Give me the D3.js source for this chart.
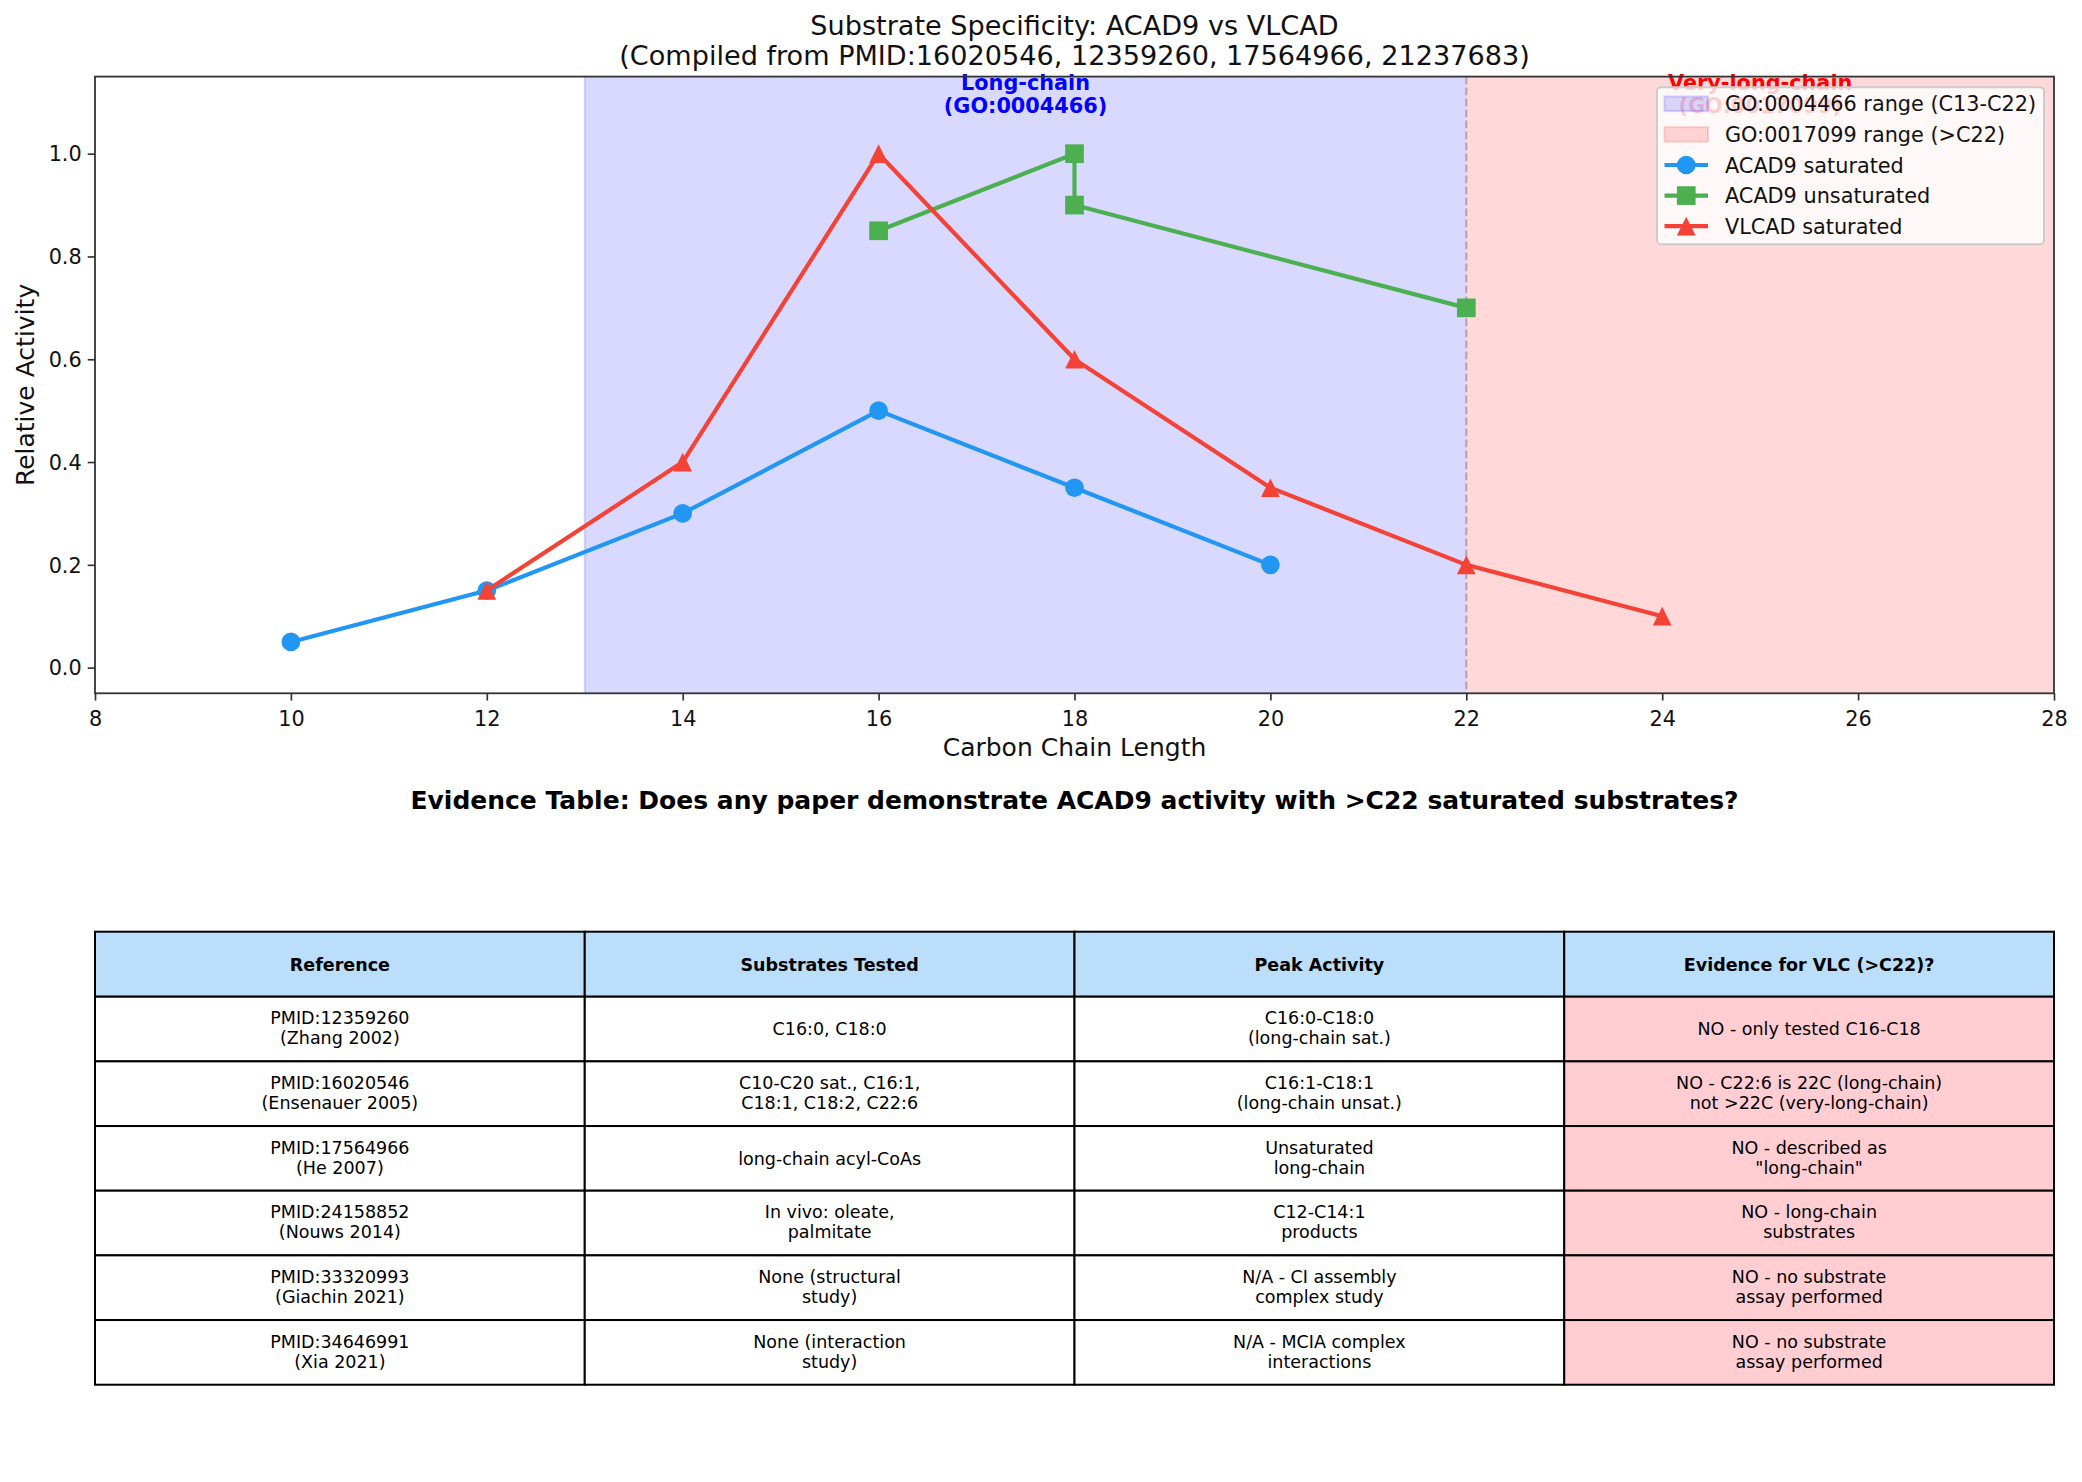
<!DOCTYPE html>
<html>
<head>
<meta charset="utf-8">
<script src="https://cdn.jsdelivr.net/npm/d3@7"></script>
<style>
  body { margin: 0; background: #fff; }
  svg { display: block; font-family: "DejaVu Sans", sans-serif; }
</style>
</head>
<body>
<svg id="chart" width="2082" height="1482"></svg>
<script>
// ---------- data ----------
const acad9SatX = [10, 12, 14, 16, 18, 20];
const acad9SatY = [0.05, 0.15, 0.30, 0.50, 0.35, 0.20];
const acad9UnsatX = [16, 18, 18, 22];
const acad9UnsatY = [0.85, 1.00, 0.90, 0.70];
const vlcadSatX = [12, 14, 16, 18, 20, 22, 24];
const vlcadSatY = [0.15, 0.40, 1.00, 0.60, 0.35, 0.20, 0.10];
const xTicks = [8, 10, 12, 14, 16, 18, 20, 22, 24, 26, 28];
const yTicks = [0.0, 0.2, 0.4, 0.6, 0.8, 1.0];
const longChainRange = [13, 22];
const vlcRange = [22, 28];
const seriesNames = ["ACAD9 saturated", "ACAD9 unsaturated", "VLCAD saturated"];
const spanNames = ["GO:0004466 range (C13-C22)", "GO:0017099 range (>C22)"];
const titleLines = ["Substrate Specificity: ACAD9 vs VLCAD", "(Compiled from PMID:16020546, 12359260, 17564966, 21237683)"];
const tableTitle = "Evidence Table: Does any paper demonstrate ACAD9 activity with >C22 saturated substrates?";
const tableHeaders = ["Reference", "Substrates Tested", "Peak Activity", "Evidence for VLC (>C22)?"];
const colReference = [
  ["PMID:12359260", "(Zhang 2002)"],
  ["PMID:16020546", "(Ensenauer 2005)"],
  ["PMID:17564966", "(He 2007)"],
  ["PMID:24158852", "(Nouws 2014)"],
  ["PMID:33320993", "(Giachin 2021)"],
  ["PMID:34646991", "(Xia 2021)"]
];
const colSubstrates = [
  ["C16:0, C18:0"],
  ["C10-C20 sat., C16:1,", "C18:1, C18:2, C22:6"],
  ["long-chain acyl-CoAs"],
  ["In vivo: oleate,", "palmitate"],
  ["None (structural", "study)"],
  ["None (interaction", "study)"]
];
const colPeak = [
  ["C16:0-C18:0", "(long-chain sat.)"],
  ["C16:1-C18:1", "(long-chain unsat.)"],
  ["Unsaturated", "long-chain"],
  ["C12-C14:1", "products"],
  ["N/A - CI assembly", "complex study"],
  ["N/A - MCIA complex", "interactions"]
];
const colEvidence = [
  ["NO - only tested C16-C18"],
  ["NO - C22:6 is 22C (long-chain)", "not >22C (very-long-chain)"],
  ["NO - described as", "\"long-chain\""],
  ["NO - long-chain", "substrates"],
  ["NO - no substrate", "assay performed"],
  ["NO - no substrate", "assay performed"]
];

// ---------- layout ----------
const svg = d3.select("#chart");
const L = 95, R = 2054, T = 76.6, B = 693.3;
const x = d3.scaleLinear().domain([8, 28]).range([L, R]);
const y = d3.scaleLinear().domain([-0.05, 1.15]).range([B, T]);
const colors = ["#2196F3", "#4CAF50", "#F44336"];
const lw = 4.17, ms = 16.7, mew = 2;

// spans
svg.append("rect").attr("x", x(longChainRange[0])).attr("y", T)
  .attr("width", x(longChainRange[1]) - x(longChainRange[0])).attr("height", B - T)
  .attr("fill", "rgb(0,0,255)").attr("fill-opacity", 0.15);
svg.append("line").attr("x1", x(longChainRange[0])).attr("x2", x(longChainRange[0]))
  .attr("y1", T).attr("y2", B).attr("stroke", "rgb(0,0,255)").attr("stroke-opacity", 0.15).attr("stroke-width", 2);
svg.append("rect").attr("x", x(vlcRange[0])).attr("y", T)
  .attr("width", x(vlcRange[1]) - x(vlcRange[0])).attr("height", B - T)
  .attr("fill", "rgb(255,0,0)").attr("fill-opacity", 0.15);
// dashed boundary
svg.append("line").attr("x1", x(22)).attr("x2", x(22)).attr("y1", T).attr("y2", B)
  .attr("stroke", "gray").attr("stroke-opacity", 0.6).attr("stroke-width", 2)
  .attr("stroke-dasharray", "7.7,3.3");

// series
function markerPath(sel, type, color, size) {
  const s = size + mew;
  if (type === "o") {
    sel.append("circle").attr("r", s / 2).attr("fill", color);
  } else if (type === "s") {
    sel.append("rect").attr("x", -s / 2).attr("y", -s / 2).attr("width", s).attr("height", s).attr("fill", color);
  } else {
    sel.append("path").attr("d", `M0,${-s / 2}L${s / 2},${s / 2}L${-s / 2},${s / 2}Z`).attr("fill", color);
  }
}
const series = [
  { xs: acad9SatX, ys: acad9SatY, m: "o" },
  { xs: acad9UnsatX, ys: acad9UnsatY, m: "s" },
  { xs: vlcadSatX, ys: vlcadSatY, m: "^" }
];
const line = d3.line().x(d => x(d[0])).y(d => y(d[1]));
series.forEach((s, i) => {
  const pts = s.xs.map((v, k) => [v, s.ys[k]]);
  const g = svg.append("g");
  g.append("path").attr("d", line(pts)).attr("fill", "none").attr("stroke", colors[i])
    .attr("stroke-width", lw).attr("stroke-linejoin", "round").attr("stroke-linecap", "butt");
  pts.forEach(p => {
    const mg = g.append("g").attr("transform", `translate(${x(p[0])},${y(p[1])})`);
    markerPath(mg, s.m, colors[i], ms);
  });
});

// region annotations
function multiText(cx, baselines, lines, color, size, weight) {
  const t = svg.append("text").attr("text-anchor", "middle").attr("fill", color)
    .attr("font-size", size).attr("font-weight", weight);
  lines.forEach((ln, i) => t.append("tspan").attr("x", cx).attr("y", baselines[i]).text(ln));
}
multiText(x(17.5), [90, 113], ["Long-chain", "(GO:0004466)"], "#0000ff", 20.8, "bold");
multiText(x(25), [90, 113], ["Very-long-chain", "(GO:0017099)"], "#ff0000", 20.8, "bold");

// axes
const xAxis = d3.axisBottom(x).tickValues(xTicks).tickFormat(d3.format("d")).tickSize(7.3).tickPadding(6);
const yAxis = d3.axisLeft(y).tickValues(yTicks).tickFormat(d3.format(".1f")).tickSize(7.3).tickPadding(6);
const gx = svg.append("g").attr("transform", `translate(0,${B})`).call(xAxis);
const gy = svg.append("g").attr("transform", `translate(${L},0)`).call(yAxis);
[gx, gy].forEach(g => {
  g.select(".domain").remove();
  g.selectAll(".tick line").attr("stroke", "#333").attr("stroke-width", 1.67);
  g.selectAll(".tick text").attr("font-size", 20.8).attr("fill", "#111")
    .attr("font-family", "DejaVu Sans");
});
gx.selectAll(".tick text").attr("dy", "0.95em");
gy.selectAll(".tick text").attr("dy", "0.35em");
// frame
svg.append("rect").attr("x", L).attr("y", T).attr("width", R - L).attr("height", B - T)
  .attr("fill", "none").attr("stroke", "#333").attr("stroke-width", 1.8);

// labels
svg.append("text").attr("x", (L + R) / 2).attr("y", 756).attr("text-anchor", "middle")
  .attr("font-size", 25).attr("fill", "#111").text("Carbon Chain Length");
svg.append("text").attr("transform", `translate(34,${(T + B) / 2}) rotate(-90)`).attr("text-anchor", "middle")
  .attr("font-size", 25).attr("fill", "#111").text("Relative Activity");
multiText((L + R) / 2, [35, 64.5], titleLines, "#111", 27.1, "normal");

// legend
const lg = svg.append("g");
const lgX = 1657, lgY = 87.3, lgW = 387, lgH = 157;
lg.append("rect").attr("x", lgX).attr("y", lgY).attr("width", lgW).attr("height", lgH).attr("rx", 4)
  .attr("fill", "#fff").attr("fill-opacity", 0.8).attr("stroke", "#cccccc").attr("stroke-width", 2);
const rowY = [103.8, 134.4, 165, 195.6, 226.2];
const hx0 = 1664.5, hx1 = 1708;
// span patches
[["rgb(0,0,255)"], ["rgb(255,0,0)"]].forEach((c, i) => {
  lg.append("rect").attr("x", hx0).attr("y", rowY[i] - 7.3).attr("width", hx1 - hx0).attr("height", 14.6)
    .attr("fill", c[0]).attr("fill-opacity", 0.15).attr("stroke", c[0]).attr("stroke-opacity", 0.15).attr("stroke-width", 2);
});
series.forEach((s, i) => {
  const cy = rowY[i + 2];
  lg.append("line").attr("x1", hx0).attr("x2", hx1).attr("y1", cy).attr("y2", cy)
    .attr("stroke", colors[i]).attr("stroke-width", lw);
  const mg = lg.append("g").attr("transform", `translate(${(hx0 + hx1) / 2},${cy})`);
  markerPath(mg, s.m, colors[i], ms);
});
spanNames.concat(seriesNames).forEach((n, i) => {
  lg.append("text").attr("x", 1725).attr("y", rowY[i] + 7.6).attr("font-size", 20.8).attr("fill", "#111").text(n);
});

// ---------- table ----------
svg.append("text").attr("x", (L + R) / 2).attr("y", 809.3).attr("text-anchor", "middle")
  .attr("font-size", 25).attr("font-weight", "bold").attr("fill", "#000").text(tableTitle);

const tTop = 931.7, headerH = 65, rowH = 64.67;
const cellFont = 17.5;
const columns = [colReference, colSubstrates, colPeak, colEvidence];
const colX = d3.scaleLinear().domain([0, 4]).range([L, R]);
const rowTop = i => tTop + headerH + i * rowH;
const tg = svg.append("g");
// header cells
tableHeaders.forEach((h, c) => {
  tg.append("rect").attr("x", colX(c)).attr("y", tTop).attr("width", colX(c + 1) - colX(c)).attr("height", headerH)
    .attr("fill", "#BBDEFB").attr("stroke", "#000").attr("stroke-width", 2);
  tg.append("text").attr("x", (colX(c) + colX(c + 1)) / 2).attr("y", tTop + headerH / 2 + 6.3)
    .attr("text-anchor", "middle").attr("font-size", cellFont).attr("font-weight", "bold").attr("fill", "#000").text(h);
});
columns.forEach((col, c) => {
  col.forEach((lines, r) => {
    const y0 = rowTop(r);
    tg.append("rect").attr("x", colX(c)).attr("y", y0).attr("width", colX(c + 1) - colX(c)).attr("height", rowH)
      .attr("fill", c === 3 ? "#FFCDD2" : "#ffffff").attr("stroke", "#000").attr("stroke-width", 2);
    const cy = y0 + rowH / 2;
    const cx = (colX(c) + colX(c + 1)) / 2;
    const t = tg.append("text").attr("text-anchor", "middle").attr("font-size", cellFont).attr("fill", "#000");
    if (lines.length === 1) {
      t.append("tspan").attr("x", cx).attr("y", cy + 6.3).text(lines[0]);
    } else {
      t.append("tspan").attr("x", cx).attr("y", cy - 4.8).text(lines[0]);
      t.append("tspan").attr("x", cx).attr("y", cy + 15.4).text(lines[1]);
    }
  });
});
</script>
</body>
</html>
